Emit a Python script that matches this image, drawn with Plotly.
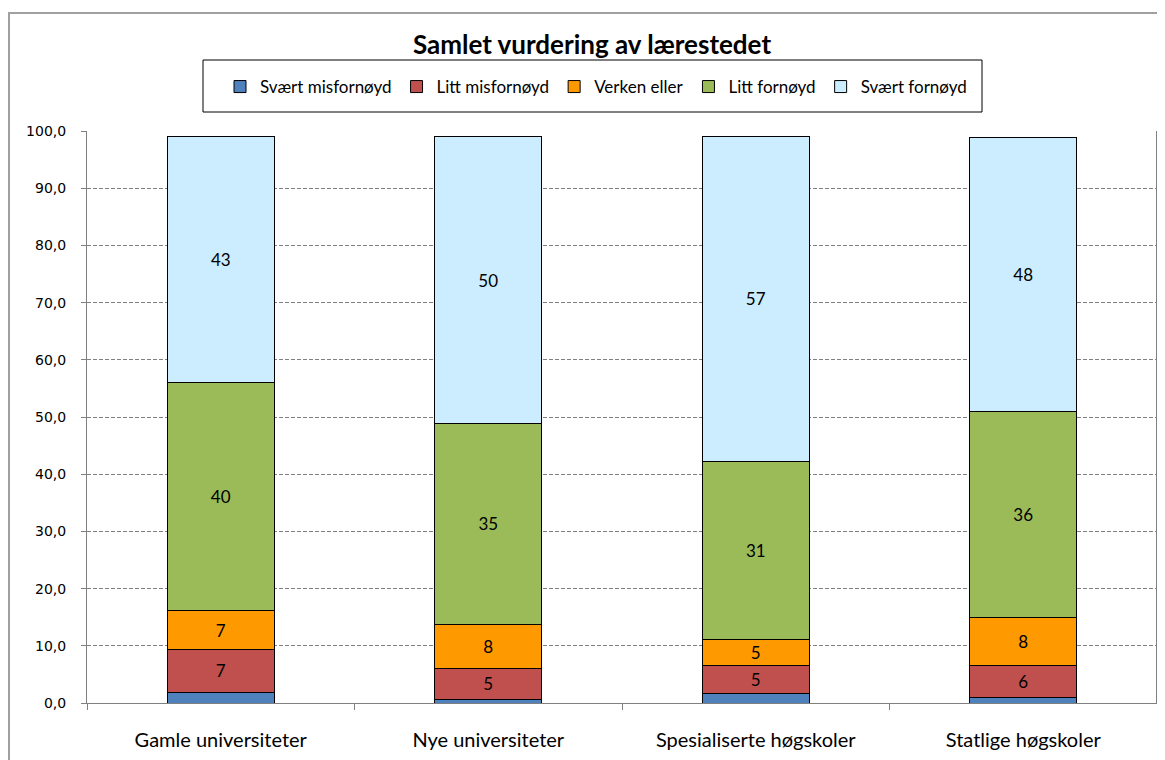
import plotly.graph_objects as go

categories = ["Gamle universiteter", "Nye universiteter", "Spesialiserte høgskoler", "Statlige høgskoler"]
series_names = ["Svært misfornøyd", "Litt misfornøyd", "Verken eller", "Litt fornøyd", "Svært fornøyd"]
svaert_misfornoyd = [1.9, 0.7, 1.7, 0.9]
litt_misfornoyd = [7.4, 5.4, 4.8, 5.7]
verken_eller = [6.8, 7.7, 4.6, 8.4]
litt_fornoyd = [40.0, 35.0, 31.1, 35.9]
svaert_fornoyd = [42.9, 50.2, 56.9, 47.9]
y_ticks = [0, 10, 20, 30, 40, 50, 60, 70, 80, 90, 100]
y_tick_labels = ["0,0", "10,0", "20,0", "30,0", "40,0", "50,0", "60,0", "70,0", "80,0", "90,0", "100,0"]

colors = ["#4F81BD", "#C0504D", "#FF9900", "#9BBB59", "#CCECFF"]
values = [svaert_misfornoyd, litt_misfornoyd, verken_eller, litt_fornoyd, svaert_fornoyd]

fig = go.Figure()
for name, vals, col in zip(series_names, values, colors):
    fig.add_trace(go.Bar(
        x=categories, y=vals, name=name,
        marker=dict(color=col, line=dict(color="black", width=1)),
        width=0.4,
        text=[f"{v:.0f}" if v >= 3 else "" for v in vals],
        textposition="inside", insidetextanchor="middle", textangle=0,
        textfont=dict(family="Lato", size=17, color="black"),
        constraintext="none",
    ))

# page offset (browser body margin)
OFF = 8
W, H = 1165, 760
PL, PR, PT, PB = 87, 1157, 131, 703  # plot area in screen px
L = PL - OFF
T = PT - OFF
R = W - (PR - OFF)
B = H - (PB - OFF)
pw, ph = PR - PL, PB - PT

def px(x):
    return (x - PL) / pw

def py(y):
    return (PB - y) / ph

fig.update_layout(
    width=W, height=H,
    barmode="stack",
    plot_bgcolor="white", paper_bgcolor="white",
    margin=dict(l=L, r=R, t=T, b=B),
    title=dict(text="<b>Samlet vurdering av lærestedet</b>", x=(592 - OFF) / W, xanchor="center",
               y=1 - (45 - OFF) / H, yanchor="middle",
               font=dict(family="Lato", size=26, color="black")),
    showlegend=True,
    legend=dict(orientation="h", x=px(596), xanchor="center", y=py(87), yanchor="middle",
                font=dict(family="Lato", size=17, color="black"),
                bgcolor="rgba(0,0,0,0)", itemclick=False, traceorder="normal"),
    xaxis=dict(type="category", showgrid=False, showline=True, linecolor="#808080", linewidth=1,
               ticks="outside", tickson="boundaries", ticklen=6, tickcolor="#808080",
               ticklabelstandoff=19,
               tickfont=dict(family="Lato", size=20, color="black"), mirror=False),
    yaxis=dict(range=[0, 100], tickvals=y_ticks, ticktext=y_tick_labels,
               showgrid=True, gridcolor="#808080", griddash="4px,2px", gridwidth=1,
               showline=True, linecolor="#808080", linewidth=1,
               ticks="outside", ticklen=5, tickcolor="#808080",
               ticklabelstandoff=12,
               tickfont=dict(family="DejaVu Sans", size=14, color="black"),
               zeroline=False),
    shapes=[
        dict(type="rect", xref="paper", yref="paper", x0=px(9), x1=px(1180), y0=py(780), y1=py(13),
             line=dict(color="#A0A0A0", width=2), fillcolor="rgba(0,0,0,0)", layer="below"),
        dict(type="rect", xref="paper", yref="paper", x0=px(203), x1=px(982), y0=py(112), y1=py(60),
             line=dict(color="black", width=1), fillcolor="rgba(0,0,0,0)"),
        dict(type="line", xref="paper", yref="paper", x0=1, x1=1, y0=0, y1=1,
             line=dict(color="#808080", width=2)),
    ],
)

fig.write_html("out.html")
